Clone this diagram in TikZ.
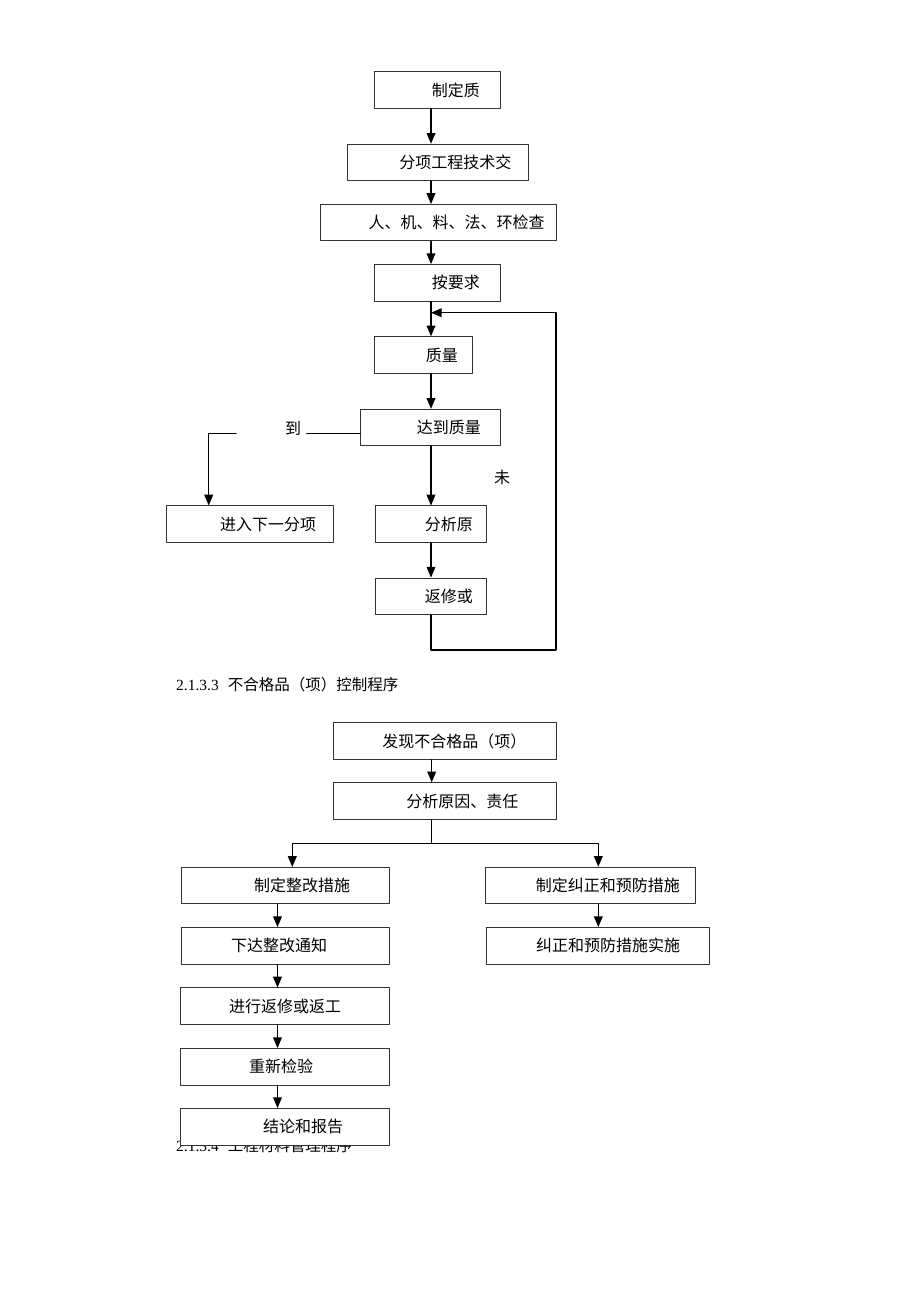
\documentclass[tikz,border=0pt]{standalone}
\usepackage{fontspec}
\setmainfont{Liberation Serif}
\newfontfamily\cjk{Noto Sans CJK SC}
\usetikzlibrary{arrows}

\begin{document}
\begin{tikzpicture}[line cap=round,line join=round,>=triangle 45,x=1pt,y=-1pt,
    stepbox/.style={draw=black!80,line width=1pt,fill=white,inner xsep=0pt,inner ysep=0pt,
      minimum height=36.5pt,align=left,font=\cjk\fontsize{16}{18}\selectfont},
    flow/.style={->,line width=1.5pt},
    plain/.style={line width=1.1pt},
    word/.style={inner sep=0pt,font=\cjk\fontsize{16}{18}\selectfont},
    heading/.style={inner sep=0pt,anchor=base west,font=\fontsize{15.5}{18}\selectfont}]
\useasboundingbox (0,0) rectangle (920,1302);
% quality control flow
\node[stepbox,text width=125.7pt] (b1) at (437.8,90.2) {\hspace*{57pt}制定质};
\node[stepbox,text width=181pt] (b2) at (437.8,162.5) {\hspace*{52pt}分项工程技术交};
\node[stepbox,text width=236.3pt] (b3) at (438.2,222.7) {\hspace*{48.5pt}人、机、料、法、环检查};
\node[stepbox,text width=125.7pt] (b4) at (437.8,282.8) {\hspace*{57pt}按要求};
\node[stepbox,text width=97.7pt] (b5) at (423.8,355) {\hspace*{51pt}质量};
\node[stepbox,text width=139.7pt] (b6) at (430.8,427.5) {\hspace*{56pt}达到质量};
\node[stepbox,text width=167.3pt] (b7) at (250.3,524.2) {\hspace*{53.5pt}进入下一分项};
\node[stepbox,text width=111.4pt] (b8) at (431,524.2) {\hspace*{49.5pt}分析原};
\node[stepbox,text width=111.4pt] (b9) at (431,596.3) {\hspace*{49.5pt}返修或};
\node[word] (dao) at (293,428.5) {到};
\node[word] (wei) at (502,477) {未};
\coordinate (ax) at (431,0);
\coordinate (gapr) at (306.7,433.3);
\coordinate (gapl) at (236,433.3);
\coordinate (turn) at (208.7,433.3);
\coordinate (loopbl) at (431,650);
\coordinate (loopbr) at (556,650);
\coordinate (looptr) at (556,312.7);
\coordinate (loopin) at (431,312.7);
\draw[flow] (b1.south -| ax) -- (b2.north -| ax);
\draw[flow] (b2.south -| ax) -- (b3.north -| ax);
\draw[flow] (b3.south -| ax) -- (b4.north -| ax);
\draw[flow] (b4.south -| ax) -- (b5.north -| ax);
\draw[flow] (b5.south -| ax) -- (b6.north -| ax);
\draw[flow] (b6.south -| ax) -- (b8.north -| ax);
\draw[flow] (b8.south -| ax) -- (b9.north -| ax);
\draw[plain] (b6.west |- gapr) -- (gapr);
\draw[flow] (gapl) -- (turn) -- (turn |- b7.north);
\draw[flow] (b9.south -| ax) -- (loopbl) -- (loopbr) -- (looptr) -- (loopin);
% nonconforming product flow
\node[heading] (cap1) at (176,690.5) {2.1.3.3\hspace{9pt}{\cjk 不合格品（项）控制程序}};
\node[stepbox,text width=223.4pt] (c1) at (445,741) {\hspace*{49pt}发现不合格品（项）};
\node[stepbox,text width=223.4pt] (c2) at (445,801) {\hspace*{73pt}分析原因、责任};
\node[stepbox,text width=208.3pt] (c3) at (285.2,885.7) {\hspace*{73pt}制定整改措施};
\node[stepbox,text width=208.3pt] (c4) at (285.2,945.8) {\hspace*{50pt}下达整改通知};
\node[stepbox,text width=209.7pt] (c5) at (590.8,885.5) {\hspace*{50pt}制定纠正和预防措施};
\node[stepbox,text width=223.3pt] (c6) at (597.7,945.8) {\hspace*{50pt}纠正和预防措施实施};
\node[stepbox,text width=208.6pt] (c7) at (285,1006.2) {\hspace*{48.5pt}进行返修或返工};
\node[stepbox,text width=208.6pt] (c8) at (285,1066.8) {\hspace*{68.5pt}重新检验};
\node[heading] (cap2) at (176,1151.5) {2.1.3.4\hspace{9pt}{\cjk 工程材料管理程序}};
\node[stepbox,text width=208.6pt] (c9) at (285,1126.8) {\hspace*{82.5pt}结论和报告};
\coordinate (bx) at (431.7,0);
\coordinate (lx) at (277.5,0);
\coordinate (rx) at (598.3,0);
\coordinate (fork) at (431.7,843.3);
\coordinate (forkl) at (292.3,843.3);
\coordinate (forkr) at (598.3,843.3);
\draw[flow] (c1.south -| bx) -- (c2.north -| bx);
\draw[plain] (c2.south -| bx) -- (fork);
\draw[flow] (fork) -- (forkl) -- (forkl |- c3.north);
\draw[flow] (fork) -- (forkr) -- (forkr |- c5.north);
\draw[flow] (c3.south -| lx) -- (c4.north -| lx);
\draw[flow] (c4.south -| lx) -- (c7.north -| lx);
\draw[flow] (c7.south -| lx) -- (c8.north -| lx);
\draw[flow] (c8.south -| lx) -- (c9.north -| lx);
\draw[flow] (c5.south -| rx) -- (c6.north -| rx);
\end{tikzpicture}
\end{document}
